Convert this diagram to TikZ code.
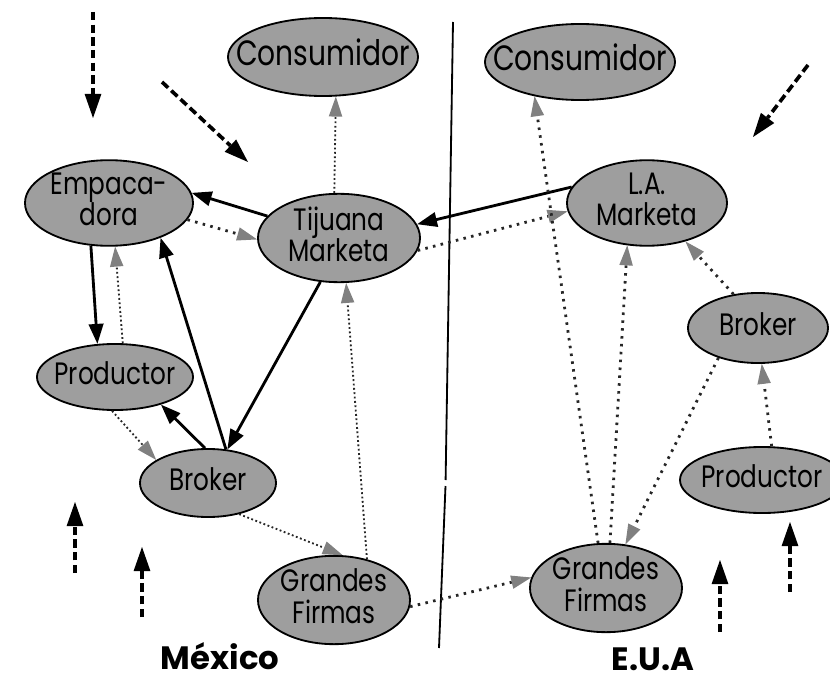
\documentclass[tikz,border=0pt]{standalone}
\usepackage{fontspec}
\setmainfont{Poppins}
\newfontfamily\sitefont{Poppins}[FakeStretch=0.8]
\usetikzlibrary{arrows.meta,shapes.geometric}
\newcommand\sitetext[1]{\makebox[0pt]{\begin{tabular}{@{}c@{}}#1\end{tabular}}}
\tikzset{
  site/.style={ellipse, draw=black, line width=1.3pt, fill=black!38, inner sep=0pt,
    font=\sitefont\fontsize{22}{19}\selectfont},
  bigsite/.style={site, font=\sitefont\fontsize{25}{24}\selectfont},
  firm/.style={-{Triangle[length=0.5cm,width=0.36cm]}, line width=2pt},
  flow/.style={-{Triangle[length=0.5cm,width=0.34cm,color=black!50,line width=0pt]},
    draw=black!85, line width=1.3pt, dash pattern=on 1.3pt off 1.8pt},
  flowwide/.style={flow, line width=2pt, dash pattern=on 1.8pt off 3.8pt},
  exo/.style={-{Triangle[length=0.6cm,width=0.42cm,line width=0pt]}, line width=2.6pt,
    dash pattern=on 6pt off 3pt},
  country/.style={font=\bfseries\fontsize{23}{23}\selectfont, inner sep=0pt}
}

\begin{document}
\begin{tikzpicture}[x=0.025cm,y=-0.025cm]
  \useasboundingbox (0,0) rectangle (830,683);
  \draw[line width=1.3pt] (453,22) -- (445.6,480) (445.5,486) -- (439,648);

  % Mexico
  \node[bigsite, minimum width=4.75cm, minimum height=1.95cm] (conL) at (323,57) {\sitetext{Consumidor}};
  \node[site, minimum width=4.2cm, minimum height=1.9cm] (emp) at (109,203) {\sitetext{Empaca-\\dora}};
  \node[site, minimum width=4.05cm, minimum height=1.85cm] (tij) at (339,238) {\sitetext{Tijuana\\Marketa}};
  \node[site, minimum width=3.9cm, minimum height=1.65cm] (proL) at (115,377) {\sitetext{Productor}};
  \node[site, minimum width=3.4cm, minimum height=1.7cm] (broL) at (208,483) {\sitetext{Broker}};
  \node[site, minimum width=3.8cm, minimum height=1.9cm] (graL) at (334,600) {\sitetext{Grandes\\Firmas}};

  % E.U.A
  \node[bigsite, minimum width=4.75cm, minimum height=1.9cm] (conR) at (580,62) {\sitetext{Consumidor}};
  \node[site, minimum width=4cm, minimum height=1.9cm] (la) at (647,203) {\sitetext{L.A.\\Marketa}};
  \node[site, minimum width=3.5cm, minimum height=1.75cm] (broR) at (758,328) {\sitetext{Broker}};
  \node[site, minimum width=4.1cm, minimum height=1.65cm] (proR) at (762,480) {\sitetext{Productor}};
  \node[site, minimum width=3.8cm, minimum height=2.2cm] (graR) at (606,588) {\sitetext{Grandes\\Firmas}};

  \node[country] (mx) at (220,656) {México};
  \node[country] (us) at (653,659) {E.U.A};

  \draw[firm] (tij.163) -- (emp.7);
  \draw[firm] (emp.247) -- (proL.118);
  \draw[firm] (broL.62) -- (emp.326);
  \draw[firm] (broL.95) -- (proL.329);
  \draw[firm] (tij.247) -- (broL.60);
  \draw[firm] (la.168) -- (tij.10);

  \draw[flow] (tij.96) -- (conL.288);
  \draw[flow] (proL.77) -- (emp.278);
  \draw[flow] (proL.265) -- (broL.156);
  \draw[flow] (broL.315) -- (graL.79);
  \draw[flow] (graL.51) -- (tij.279);
  \draw[flowwide] (emp.348) -- (tij.181);
  \draw[flowwide] (tij.351) -- (la.186);
  \draw[flowwide] (graL.355) -- (graR.172);
  \draw[flowwide] (graR.100) -- (conR.217);
  \draw[flowwide] (graR.85) -- (la.245);
  \draw[flowwide] (broR.217) -- (graR.66);
  \draw[flowwide] (broR.126) -- (la.315);
  \draw[flowwide] (proR.74) -- (broR.276);

  \foreach \n/\xa/\ya/\xb/\yb in {1/93/12/93/118, 2/162/82/248/162, 3/808/65/753/137,
      4/75/573/75/502, 5/142/617/142/547, 6/720/632/720/560, 7/790/592/790/522} {
    \coordinate (in\n) at (\xa,\ya);
    \coordinate (out\n) at (\xb,\yb);
    \draw[exo] (in\n) -- (out\n);
  }
\end{tikzpicture}
\end{document}
